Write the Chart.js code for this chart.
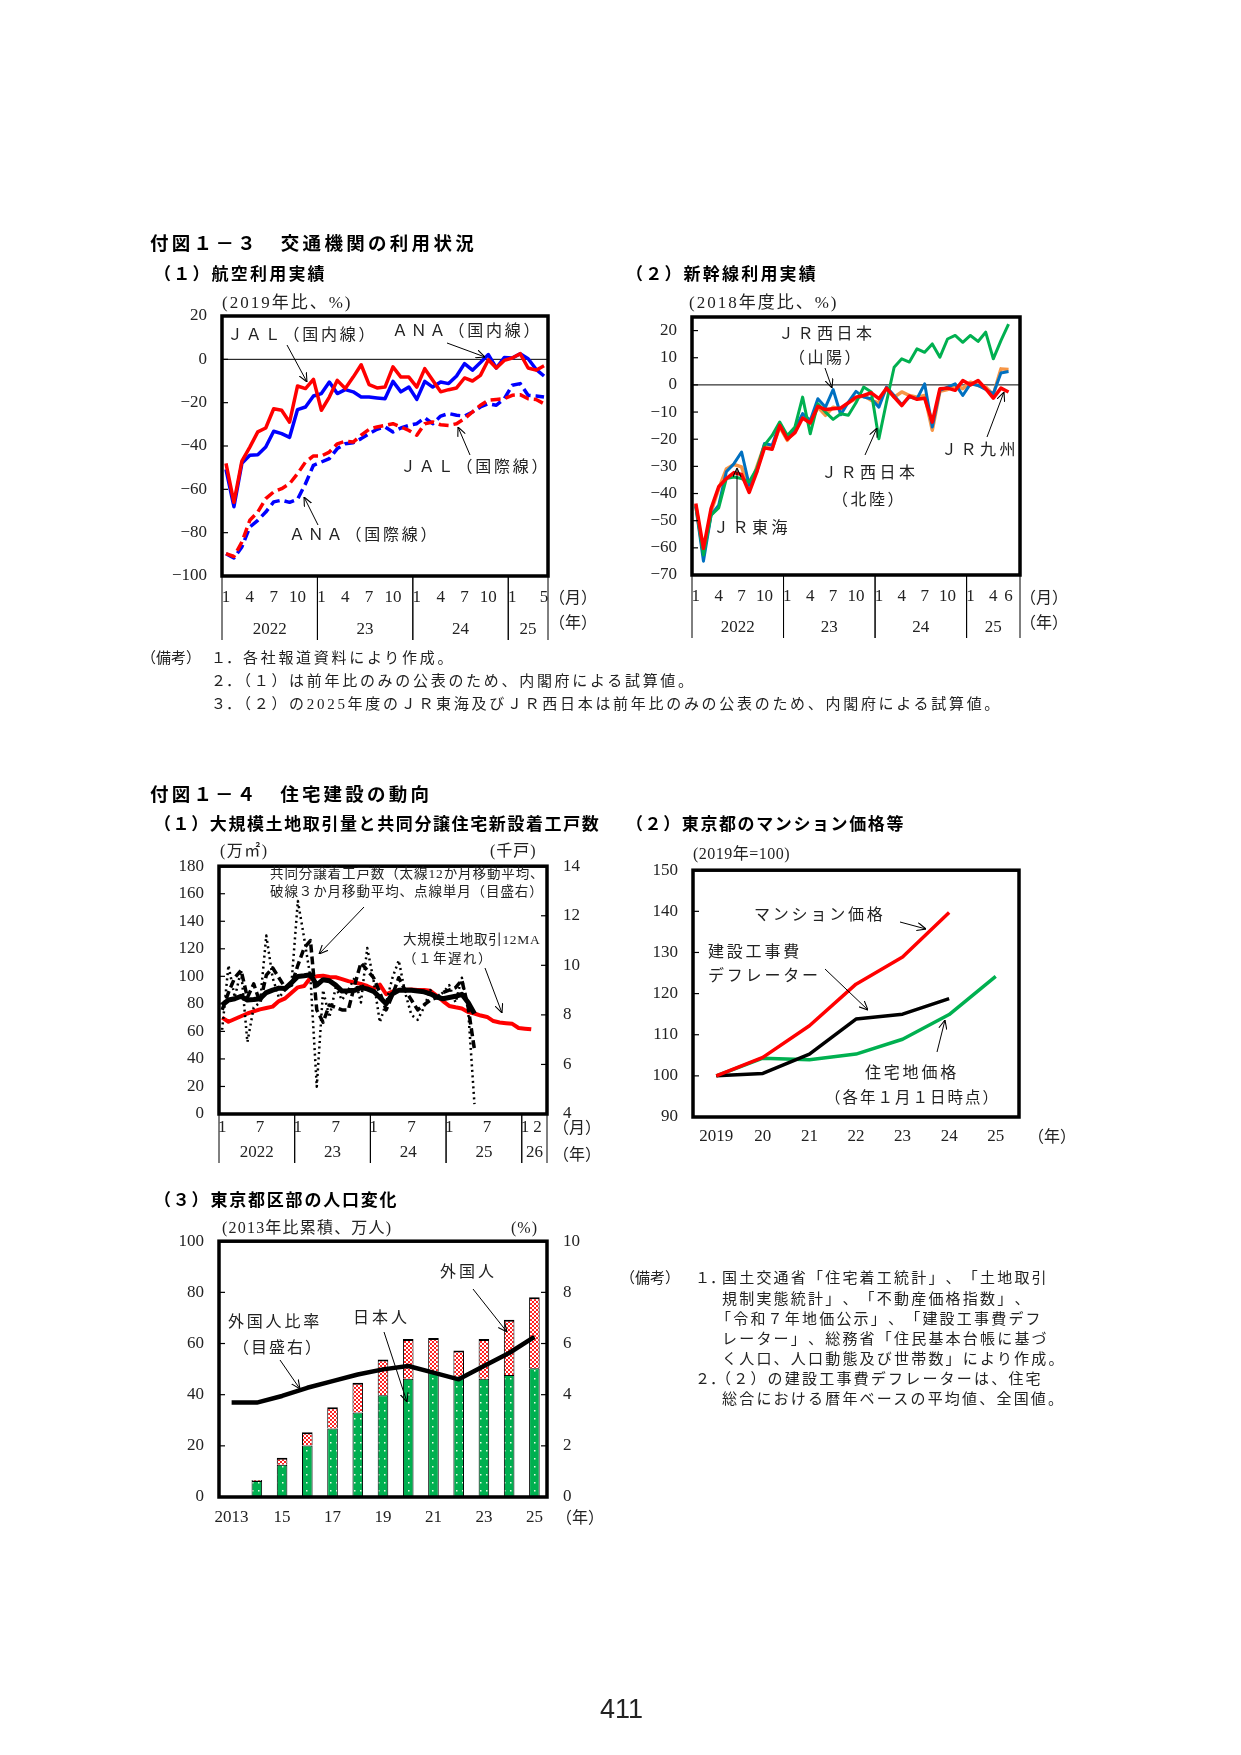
<!DOCTYPE html>
<html lang="ja">
<head>
<meta charset="utf-8">
<title>付図１－３・１－４</title>
<script src="https://cdn.jsdelivr.net/npm/chart.js@4.4.1/dist/chart.umd.min.js"></script>
<style>
html, body { margin: 0; padding: 0; background: #fff; }
#page { position: relative; width: 1241px; height: 1755px; overflow: hidden;
  font-family: "Liberation Serif", "Noto Sans CJK JP", serif; color: #222; }
#page canvas { position: absolute; }
.t { position: absolute; white-space: nowrap; line-height: 1; transform: translateY(-50%);
  text-spacing-trim: space-all; }
.h { font-family: "Noto Sans CJK JP", sans-serif; font-weight: bold; color: #000; }
#arrows { position: absolute; left: 0; top: 0; }
</style>
</head>
<body>
<div id="page">
  <canvas id="air" width="480" height="360" style="left:130px;top:290px"></canvas>
  <canvas id="shin" width="440" height="360" style="left:620px;top:290px"></canvas>
  <canvas id="house" width="480" height="335" style="left:130px;top:840px"></canvas>
  <canvas id="price" width="440" height="310" style="left:620px;top:845px"></canvas>
  <canvas id="pop" width="480" height="320" style="left:130px;top:1215px"></canvas>
  <svg id="arrows" width="1241" height="1755">
    <defs>
      <marker id="ah" viewBox="0 0 10 10" refX="10" refY="5" markerWidth="9" markerHeight="9"
              markerUnits="userSpaceOnUse" orient="auto">
        <path d="M0,0.5 L10,5 L0,9.5" fill="none" stroke="#000" stroke-width="1.2"/>
      </marker>
    </defs>
  </svg>
</div>
<script>
// ---- データ ----
// (1) 航空利用実績 2022/1〜2025/5（2019年比、%）
const jalDom = [-48, -66, -47, -40.5, -33.5, -31.7, -22.8, -23.5, -29, -12.3,
  -13.5, -9.2, -23.5, -17.4, -9.7, -13.5, -8.2, -2.5, -11.7, -13.2,
  -12.8, -3.5, -8.2, -8.2, -12.8, -4.3, -9.7, -15, -14, -13.2,
  -8.6, -10, -7.4, -0.2, -4, -0.5, 0.6, 2.6, -4, -5, -3];
const anaDom = [-50.8, -68, -48, -44.3, -44, -40.5, -33.2, -34.3, -36, -23.2,
  -22, -16.9, -15.8, -10.5, -15.8, -14, -15, -17.4, -17.4, -17.8,
  -18.2, -10.2, -15, -12.8, -18.5, -10.2, -12.8, -10.5, -11.2, -7.7,
  -2, -5, -1.5, 2.2, -4, 0.8, 0.6, 2.6, 0.3, -4.6, -7.7];
const jalInt = [-89.7, -91, -84.3, -74.3, -70.5, -64.3, -61.2, -59.7, -57.4, -52.8,
  -47.4, -44.6, -44.6, -42.8, -39, -37.8, -38.2, -35, -32.3, -31.2,
  -30.5, -29.7, -31.2, -32.8, -35, -29.7, -28.9, -30.2, -30.5, -29.7,
  -27.4, -24.3, -21.2, -18.9, -18.5, -18.2, -16.6, -16.3, -18.2, -18.5, -20.5];
const anaInt = [-89.7, -91.7, -86.6, -77.4, -74.3, -70.5, -65.8, -65, -66, -64.6,
  -57.4, -48.9, -47.4, -45.8, -41.2, -39, -38.5, -36.6, -34.3, -32.3,
  -31.2, -33.5, -31.7, -30.5, -29.7, -27, -29.7, -26.2, -25, -25.8,
  -26.2, -24.3, -22, -20.5, -21.2, -18.2, -12, -11.2, -16.6, -16.9, -17.4];

// (2) 新幹線利用実績 2022/1〜2025/6（2018年度比、%）
const kyushu = [-43.7, -60.2, -45.5, -37.5, -34.5, -32.3, -33, -39.6, -32, -23.2,
  -23.7, -14.9, -20, -17.6, -12.2, -14, -7.9, -9.1, -8.8, -8.5,
  -6.6, -4.5, -3.9, -2.9, -5.1, -1.2, -4.5, -7.6, -4.1, -5.3,
  -4.9, -13.7, -1.4, -1.2, -2, 1.6, 0, 1.6, -1.4, -4.9, -1.2, -2.6, null];
const sanyo = [-44.9, -64.9, -48, -44.3, -32, -29, -24.7, -36.9, -32, -21.6,
  -22.2, -14.3, -19.2, -16.1, -10.6, -13.1, -5.1, -8.2, -1.7, -11,
  -6.3, -2.4, -4.5, -5.1, -8.2, -0.8, -3.9, -7.3, -4.5, -5.1,
  0.4, -15.5, -2, -0.8, 0.4, -3.9, 0.4, -0.2, -1.7, -3.3, 4.4, 4.9, null];
const tokai = [-44.3, -62.6, -46.7, -38.2, -31, -29.3, -30.2, -38.8, -30.2, -22.2,
  -23.5, -15.5, -20.4, -16.7, -11.8, -14.3, -8.2, -11.2, -8.2, -9,
  -6.6, -5.1, -3.9, -5.7, -6.6, -1.2, -4.5, -2.6, -3.9, -4.5,
  -3.9, -16.7, -2.4, -1.7, -0.2, -1.4, 1, -0.2, -0.8, -3.6, 5.9, 5.7, null];
const hokuriku = [-44.3, -62.6, -48, -45.3, -34.5, -33.9, -34.5, -35.7, -30.8, -22.2,
  -18.6, -13.7, -18.6, -15.5, -4.5, -18, -6.9, -10, -12.7, -10.6,
  -11.2, -6.6, -0.8, -2.6, -19.8, -6.3, 6.5, 9.6, 8.4, 13.3,
  12, 15.1, 10.2, 16.9, 18.2, 15.7, 18.2, 16, 19.4, 9.6, 16.3, 22.4, null];
const shinYTicks = [-70, -60, -50, -40, -30, -20, -10, 0, 10, 20];

// (1) 大規模土地取引量（万㎡、左）と共同分譲着工戸数（千戸、右） 2022/1〜2026/4
const land12 = [70, 67, 69, 71, 73, 74.5, 76, 77, 78, 82,
  84, 88, 92, 93, 99, 100, 100.5, 99.5, 99.3, 98,
  96.5, 95.5, 94.5, 93, 91, 94, 87, 89, 90, 90,
  90.5, 90, 90, 89.5, 86, 82, 78.5, 77.5, 76.7, 74,
  73, 71.5, 70.5, 67.5, 66.5, 66, 65.5, 62.5, 62, 61.5, null, null];
const starts12 = [8.4, 8.6, 8.65, 8.75, 8.6, 8.62, 8.65, 8.9, 9.0, 9.08,
  9.06, 9.3, 9.55, 9.58, 9.62, 9.2, 9.42, 9.38, 9.2, 8.96,
  8.97, 8.99, 9.1, 9.05, 8.95, 8.7, 8.45, 8.85, 8.99, 9.0,
  8.99, 8.96, 8.93, 8.85, 8.72, 8.65, 8.7, 8.75, 8.83, 8.5,
  8.05, null, null, null, null, null, null, null, null, null, null, null];
const starts3 = [8.2, 8.9, 9.5, 9.8, 8.7, 9.25, 8.5, 9.6, 9.9, 9.5,
  9.1, 9.2, 10.0, 10.7, 11.0, 8.2, 7.7, 8.4, 8.3, 8.2,
  8.2, 9.2, 10.1, 9.8, 9.5, 8.9, 8.2, 8.8, 9.5, 9.0,
  8.6, 8.2, 8.4, 8.6, 8.7, 8.9, 9.0, 9.1, 9.4, 8.3,
  6.6, null, null, null, null, null, null, null, null, null, null, null];
const starts1 = [7.4, 10.0, 8.7, 9.8, 6.9, 8.3, 8.5, 11.2, 9.5, 8.7,
  9.0, 9.3, 12.6, 11.1, 9.5, 5.1, 9.0, 7.9, 9.1, 8.6,
  9.0, 9.5, 8.5, 10.7, 9.4, 7.7, 8.5, 9.5, 10.2, 8.9,
  8.0, 7.8, 8.3, 9.0, 8.7, 8.9, 9.2, 8.5, 9.5, 8.2,
  4.4, null, null, null, null, null, null, null, null, null, null, null];

// (2) 東京都のマンション価格等（2019年=100）
const priceYears = ['2019', '20', '21', '22', '23', '24', '25'];
const mansion = [100, 104.5, 112.2, 122.3, 128.9, 139.7, null];
const deflator = [100, 100.6, 105.3, 113.8, 115, 118.8, null];
const landPrice = [100, 104.3, 103.9, 105.3, 108.9, 114.9, 124.2];

// (3) 東京都区部の人口変化（2013年比累積、万人）と外国人比率（%）
const popYears = ['2013', '14', '15', '16', '17', '18', '19', '20', '21', '22', '23', '24', '25'];
const popTicks = ['2013', '', '15', '', '17', '', '19', '', '21', '', '23', '', '25'];
const japanese = [0, 6.3, 12.6, 20.1, 26.8, 33, 39.8, 46.2, 49, 47, 46.2, 47.7, 50.3];
const foreign = [0, 0.3, 2.7, 5.2, 8.3, 11.7, 14, 15.6, 13.2, 10.3, 15.6, 21.6, 27.8];
const foreignRatio = [3.69, 3.69, 3.95, 4.27, 4.53, 4.79, 4.99, 5.12, 4.86, 4.6, 5.12, 5.63, 6.26];

// 月目盛
const q3 = ['1', '', '', '4', '', '', '7', '', '', '10', '', ''];
const q6 = ['1', '', '', '', '', '', '7', '', '', '', '', ''];
const airTicks = [...q3, ...q3, ...q3, '1', '', '', '', '5'];
const shinTicks = [...q3, ...q3, ...q3, '1', '', '', '4', '', '6', ''];
const houseTicks = [...q6, ...q6, ...q6, ...q6, '1', '', '2', ''];
const airYears = [['2022', 0, 11], ['23', 12, 23], ['24', 24, 35], ['25', 36, 40]];
const shinYears = [['2022', 0, 11], ['23', 12, 23], ['24', 24, 35], ['25', 36, 42]];
const houseYears = [['2022', 0, 11], ['23', 12, 23], ['24', 24, 35], ['25', 36, 47], ['26', 48, 51]];

function monthCats(y0, n) {
  const out = [];
  for (let i = 0; i < n; i++) out.push(`${y0 + Math.floor(i / 12)}/${i % 12 + 1}`);
  return out;
}

// ---- 文字・矢印（ページ座標） ----
const texts = [
  ['付図１－３　交通機関の利用状況', 150, 242, 18.5, 3.3, true],
  ['（１）航空利用実績', 154, 272, 17, 2.2, true],
  ['（２）新幹線利用実績', 626, 272, 17, 2.2, true],
  ['(2019年比、%)', 222, 302, 17, 2],
  ['(2018年度比、%)', 689, 302, 17, 2],
  ['ＪＡＬ（国内線）', 227, 335, 16, 2.8],
  ['ＡＮＡ（国内線）', 392, 331, 16, 2.8],
  ['ＪＡＬ（国際線）', 400, 467, 16, 2.8],
  ['ＡＮＡ（国際線）', 289, 535, 16, 2.8],
  ['（月）', 549, 598, 16, 0],
  ['（年）', 549, 623, 16, 0],
  ['ＪＲ西日本', 778, 334, 16, 3.5],
  ['（山陽）', 789, 358, 16, 2.5],
  ['ＪＲ東海', 713, 528, 16, 3.5],
  ['ＪＲ西日本', 821, 473, 16, 3.5],
  ['（北陸）', 832, 500, 16, 2.5],
  ['ＪＲ九州', 941, 450, 16, 3.5],
  ['（月）', 1020, 598, 16, 0],
  ['（年）', 1020, 623, 16, 0],
  ['（備考）', 141, 658, 15, 0],
  ['１．', 211, 658, 15, 0],
  ['各社報道資料により作成。', 243, 658, 15, 2.7],
  ['２．', 211, 681, 15, 0],
  ['（１）は前年比のみの公表のため、内閣府による試算値。', 236, 681, 15, 2.7],
  ['３．', 211, 704, 15, 0],
  ['（２）の2025年度のＪＲ東海及びＪＲ西日本は前年比のみの公表のため、内閣府による試算値。', 236, 704, 15, 2.7],
  ['付図１－４　住宅建設の動向', 150, 793, 18.5, 3.2, true],
  ['（１）大規模土地取引量と共同分譲住宅新設着工戸数', 154, 822, 17, 1.6, true],
  ['（２）東京都のマンション価格等', 626, 822, 17, 1.6, true],
  ['(万㎡)', 220, 851, 16, 1.5],
  ['(千戸)', 490, 851, 16, 1],
  ['共同分譲着工戸数（太線12か月移動平均、', 270, 874, 13.5, 0.9],
  ['破線３か月移動平均、点線単月（目盛右）', 270, 892, 13.5, 0.9],
  ['大規模土地取引12MA', 403, 940, 13.5, 0.7],
  ['（１年遅れ）', 403, 959, 13.5, 1.5],
  ['（月）', 553, 1128, 16, 0],
  ['（年）', 553, 1155, 16, 0],
  ['(2019年=100)', 693, 854, 16, 0.5],
  ['マンション価格', 754, 915, 16, 2.8],
  ['建設工事費', 708, 952, 16, 2.8],
  ['デフレーター', 708, 976, 16, 2.8],
  ['住宅地価格', 865, 1073, 16, 2.8],
  ['（各年１月１日時点）', 825, 1098, 15.5, 2],
  ['（年）', 1028, 1137, 16, 0],
  ['（３）東京都区部の人口変化', 154, 1198, 17, 1.8, true],
  ['(2013年比累積、万人)', 222, 1228, 16, 1.2],
  ['(%)', 511, 1228, 16, 1],
  ['外国人', 440, 1272, 16, 3],
  ['日本人', 353, 1318, 16, 3],
  ['外国人比率', 228, 1322, 16, 2.8],
  ['（目盛右）', 233, 1348, 16, 2],
  ['（年）', 556, 1518, 16, 0],
  ['（備考）', 620, 1278, 15, 0],
  ['１．', 695, 1278, 15, 0],
  ['国土交通省「住宅着工統計」、「土地取引', 722, 1278, 15, 2.2],
  ['規制実態統計」、「不動産価格指数」、', 722, 1299, 15, 2.2],
  ['「令和７年地価公示」、「建設工事費デフ', 716, 1319, 15, 2.2],
  ['レーター」、総務省「住民基本台帳に基づ', 722, 1339, 15, 2.2],
  ['く人口、人口動態及び世帯数」により作成。', 722, 1359, 15, 2.2],
  ['２．', 695, 1379, 15, 0],
  ['（２）の建設工事費デフレーターは、住宅', 716, 1379, 15, 2.2],
  ['総合における暦年ベースの平均値、全国値。', 722, 1399, 15, 2.2]
];
const arrows = [
  [287, 345, 307, 382], [447, 343, 485, 357], [470, 455, 458, 427], [318, 525, 304, 497],
  [825, 368, 832, 388], [737, 522, 737, 468], [865, 455, 877, 428], [987, 437, 1004, 392],
  [364, 907, 319, 954], [485, 968, 502, 1013],
  [900, 922, 926, 929], [825, 969, 868, 1010], [937, 1052, 945, 1020],
  [473, 1289, 507, 1332], [384, 1332, 407, 1402], [280, 1360, 300, 1389]
];

const page = document.getElementById('page');
texts.forEach(([s, x, y, size, sp, bold]) => {
  const d = document.createElement('div');
  d.className = bold ? 't h' : 't';
  d.textContent = s;
  d.style.left = x + 'px';
  d.style.top = y + 'px';
  d.style.fontSize = size + 'px';
  d.style.letterSpacing = sp + 'px';
  page.appendChild(d);
});
const pn = document.createElement('div');
pn.className = 't';
pn.textContent = '411';
pn.style.cssText = 'left:600px;top:1709px;font:27px "Liberation Sans",sans-serif;color:#222;';
page.appendChild(pn);

const svg = document.getElementById('arrows');
arrows.forEach(([x1, y1, x2, y2]) => {
  const l = document.createElementNS('http://www.w3.org/2000/svg', 'line');
  l.setAttribute('x1', x1); l.setAttribute('y1', y1);
  l.setAttribute('x2', x2); l.setAttribute('y2', y2);
  l.setAttribute('stroke', '#000'); l.setAttribute('stroke-width', '1');
  l.setAttribute('marker-end', 'url(#ah)');
  svg.appendChild(l);
});

// ---- Chart.js 共通 ----
const FONT = '"Liberation Serif", "Noto Sans CJK JP", serif';
Chart.defaults.font.family = FONT;
Chart.defaults.font.size = 17;
Chart.defaults.color = '#222';
Chart.defaults.animation = false;
Chart.defaults.elements.point.radius = 0;
Chart.defaults.elements.line.borderJoinStyle = 'round';
Chart.defaults.plugins.legend.display = false;
Chart.defaults.plugins.tooltip.enabled = false;

// 枠・内向き目盛・ゼロ線
const framePlugin = {
  id: 'frame',
  beforeDatasetsDraw(chart, args, o) {
    if (o.zero === undefined) return;
    const { ctx, chartArea: a } = chart;
    const y = chart.scales.y.getPixelForValue(o.zero);
    ctx.save();
    ctx.strokeStyle = '#000';
    ctx.lineWidth = 1;
    ctx.beginPath(); ctx.moveTo(a.left, y); ctx.lineTo(a.right, y); ctx.stroke();
    ctx.restore();
  },
  afterDatasetsDraw(chart) {
    const { ctx, chartArea: a } = chart;
    ctx.save();
    ctx.strokeStyle = '#000';
    ctx.lineWidth = 1.2;
    ['y', 'y1'].forEach(id => {
      const s = chart.scales[id];
      if (!s) return;
      const left = s.position === 'left';
      const x0 = left ? a.left : a.right;
      s.ticks.forEach(t => {
        const y = s.getPixelForValue(t.value);
        if (y <= a.top + 2 || y >= a.bottom - 2) return;
        ctx.beginPath(); ctx.moveTo(x0, y); ctx.lineTo(x0 + (left ? 6 : -6), y); ctx.stroke();
      });
    });
    ctx.lineWidth = 3.5;
    ctx.strokeRect(a.left, a.top, a.width, a.height);
    ctx.restore();
  }
};

// 月・年の目盛
const axisTextPlugin = {
  id: 'axisText',
  afterDraw(chart, args, o) {
    if (!o.labels) return;
    const { ctx, chartArea: a } = chart;
    const xs = chart.scales.x;
    const half = (xs.getPixelForValue(1) - xs.getPixelForValue(0)) / 2;
    ctx.save();
    ctx.fillStyle = '#222';
    ctx.font = '17px ' + FONT;
    ctx.textAlign = 'center';
    ctx.textBaseline = 'middle';
    o.labels.forEach((t, i) => {
      if (t) ctx.fillText(t, xs.getPixelForValue(i), a.bottom + o.dy);
    });
    if (o.years) {
      ctx.strokeStyle = '#000';
      ctx.lineWidth = 1;
      o.years.forEach(([label, from, to]) => {
        const x0 = xs.getPixelForValue(from) - half;
        const x1 = xs.getPixelForValue(to) + half;
        ctx.fillText(label, (x0 + x1) / 2, a.bottom + o.yearDy);
        [x0, x1].forEach(x => {
          ctx.beginPath(); ctx.moveTo(x, a.bottom); ctx.lineTo(x, a.bottom + o.lineLen); ctx.stroke();
        });
      });
    }
    ctx.restore();
  }
};
Chart.register(framePlugin, axisTextPlugin);

function yAxis(position, min, max, step, width, pad, fixedTicks) {
  const ax = {
    position, min, max,
    grid: { display: false, drawTicks: false },
    border: { display: false },
    afterFit: s => { s.width = width; },
    ticks: { stepSize: step, padding: pad, callback: v => String(v).replace('-', '−') }
  };
  if (fixedTicks) ax.afterBuildTicks = s => { s.ticks = fixedTicks.map(v => ({ value: v })); };
  return ax;
}
const xHidden = { type: 'category', offset: true, display: false };

// (1) 航空利用実績
new Chart(document.getElementById('air'), {
  type: 'line',
  data: {
    labels: monthCats(2022, 41),
    datasets: [
      { label: 'JAL（国内線）', data: jalDom, borderColor: '#FF0000', borderWidth: 3.5 },
      { label: 'ANA（国内線）', data: anaDom, borderColor: '#0000FF', borderWidth: 3.5 },
      { label: 'JAL（国際線）', data: jalInt, borderColor: '#FF0000', borderWidth: 3.5, borderDash: [10, 5] },
      { label: 'ANA（国際線）', data: anaInt, borderColor: '#0000FF', borderWidth: 3.5, borderDash: [10, 5] }
    ]
  },
  options: {
    responsive: false,
    layout: { padding: { top: 26, right: 62, bottom: 74, left: 0 } },
    scales: { x: xHidden, y: yAxis('left', -100, 20, 20, 92, 15) },
    plugins: {
      frame: { zero: 0 },
      axisText: { labels: airTicks, dy: 22, years: airYears, yearDy: 54, lineLen: 64 }
    }
  }
});

// (2) 新幹線利用実績
new Chart(document.getElementById('shin'), {
  type: 'line',
  data: {
    labels: monthCats(2022, 43),
    datasets: [
      { label: 'JR九州', data: kyushu, borderColor: '#FF0000', borderWidth: 3.5 },
      { label: 'JR西日本（北陸）', data: hokuriku, borderColor: '#00B050', borderWidth: 3 },
      { label: 'JR西日本（山陽）', data: sanyo, borderColor: '#0070C0', borderWidth: 3 },
      { label: 'JR東海', data: tokai, borderColor: '#F79646', borderWidth: 3.5 }
    ]
  },
  options: {
    responsive: false,
    layout: { padding: { top: 27, right: 40, bottom: 75, left: 0 } },
    scales: { x: xHidden, y: yAxis('left', -70, 25, 10, 72, 15, shinYTicks) },
    plugins: {
      frame: { zero: 0 },
      axisText: { labels: shinTicks, dy: 22, years: shinYears, yearDy: 53, lineLen: 63 }
    }
  }
});

// (1) 大規模土地取引量と共同分譲住宅新設着工戸数
new Chart(document.getElementById('house'), {
  type: 'line',
  data: {
    labels: monthCats(2022, 52),
    datasets: [
      { label: '12か月移動平均', data: starts12, yAxisID: 'y1', borderColor: '#000', borderWidth: 5 },
      { label: '3か月移動平均', data: starts3, yAxisID: 'y1', borderColor: '#000', borderWidth: 3.5, borderDash: [8, 4] },
      { label: '単月', data: starts1, yAxisID: 'y1', borderColor: '#000', borderWidth: 2.5, borderDash: [2, 3.5] },
      { label: '大規模土地取引12MA', data: land12, yAxisID: 'y', borderColor: '#FF0000', borderWidth: 4 }
    ]
  },
  options: {
    responsive: false,
    layout: { padding: { top: 22, right: 0, bottom: 61, left: 0 } },
    scales: {
      x: xHidden,
      y: yAxis('left', 0, 180, 20, 89, 15),
      y1: yAxis('right', 4, 14, 2, 63, 16)
    },
    plugins: {
      axisText: { labels: houseTicks, dy: 14, years: houseYears, yearDy: 39, lineLen: 49 }
    }
  }
});

// (2) 東京都のマンション価格等
new Chart(document.getElementById('price'), {
  type: 'line',
  data: {
    labels: priceYears,
    datasets: [
      { label: 'マンション価格', data: mansion, borderColor: '#FF0000', borderWidth: 3.5 },
      { label: '建設工事費デフレーター', data: deflator, borderColor: '#000', borderWidth: 3.5 },
      { label: '住宅地価格', data: landPrice, borderColor: '#00B050', borderWidth: 3.5 }
    ]
  },
  options: {
    responsive: false,
    layout: { padding: { top: 20, right: 41, bottom: 38, left: 0 } },
    scales: { x: xHidden, y: yAxis('left', 90, 150, 10, 73, 15) },
    plugins: { axisText: { labels: priceYears, dy: 20 } }
  }
});

// (3) 東京都区部の人口変化
function pattern(w, h, bg, fg, dots) {
  const c = document.createElement('canvas');
  c.width = w; c.height = h;
  const g = c.getContext('2d');
  g.fillStyle = bg; g.fillRect(0, 0, w, h);
  g.fillStyle = fg;
  dots.forEach(([x, y, s]) => g.fillRect(x, y, s, s));
  return g.createPattern(c, 'repeat');
}
const greenDots = pattern(6, 8, '#00B050', '#E8FFE8', [[2, 3, 1.5]]);
const pinkDots = pattern(4, 4, '#FFFFFF', '#FF2020', [[0, 0, 2], [2, 2, 2]]);

new Chart(document.getElementById('pop'), {
  type: 'bar',
  data: {
    labels: popYears,
    datasets: [
      { type: 'line', label: '外国人比率', data: foreignRatio, yAxisID: 'y1', borderColor: '#000', borderWidth: 4.5, order: 0 },
      { label: '日本人', data: japanese, yAxisID: 'y', stack: 'p', backgroundColor: greenDots,
        borderColor: '#000', borderWidth: 1, barPercentage: 0.42, categoryPercentage: 1, order: 1 },
      { label: '外国人', data: foreign, yAxisID: 'y', stack: 'p', backgroundColor: pinkDots,
        borderColor: '#000', borderWidth: { top: 2, left: 1, right: 1, bottom: 0 }, barPercentage: 0.42, categoryPercentage: 1, order: 1 }
    ]
  },
  options: {
    responsive: false,
    layout: { padding: { top: 24, right: 0, bottom: 38, left: 0 } },
    scales: {
      x: { type: 'category', offset: true, display: false, stacked: true },
      y: Object.assign(yAxis('left', 0, 100, 20, 89, 15), { stacked: true }),
      y1: yAxis('right', 0, 10, 2, 63, 16)
    },
    plugins: { axisText: { labels: popTicks, dy: 21 } }
  }
});
</script>
</body>
</html>
